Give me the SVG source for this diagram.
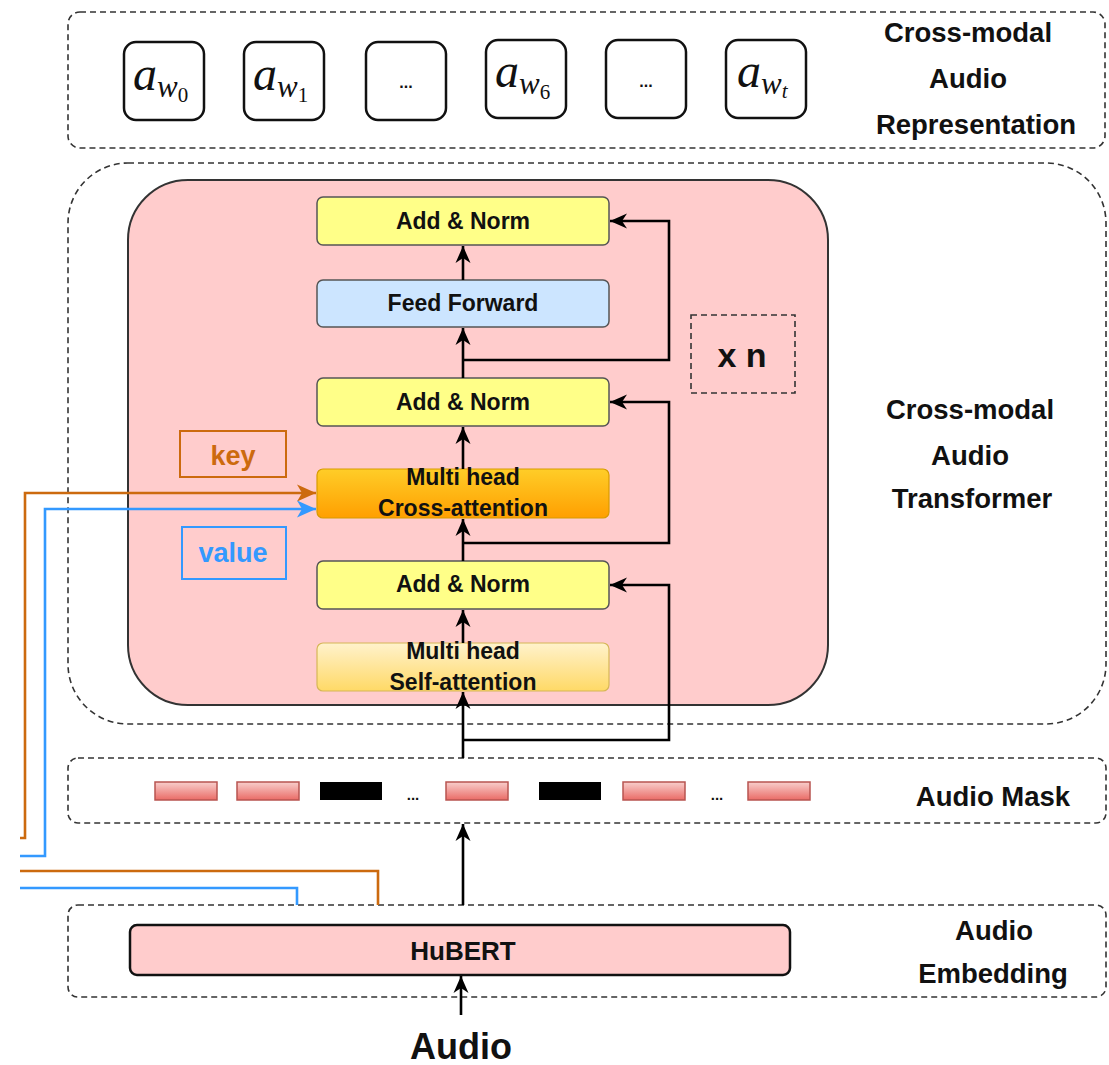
<svg xmlns="http://www.w3.org/2000/svg" width="1109" height="1065" viewBox="0 0 1109 1065">
  <style>
    .dash { fill: none; stroke: #333; stroke-width: 1.6; stroke-dasharray: 6 4; }
    .lbl { font-family: "Liberation Sans", Arial, sans-serif; font-weight: bold; fill: #111; text-anchor: middle; }
    .cap { font-family: "Liberation Sans", Arial, sans-serif; font-weight: bold; fill: #111; text-anchor: middle; font-size: 27.5px; }
    .blk { font-family: "Liberation Sans", Arial, sans-serif; font-weight: bold; fill: #111; text-anchor: middle; font-size: 23px; }
    .math { font-family: "Liberation Serif", "DejaVu Serif", serif; font-style: italic; fill: #111; }
    .tok { fill: #fff; stroke: #111; stroke-width: 2.5; }
    .an { fill: #ffff88; stroke: #555; stroke-width: 1.5; }
    .wire { fill: none; stroke: #000; stroke-width: 2.6; }
    .orange { fill: none; stroke: #cc6a0e; stroke-width: 2.6; }
    .blue { fill: none; stroke: #3399ff; stroke-width: 2.6; }
    .mask { fill: url(#gMask); stroke: #b85450; stroke-width: 1.5; }
    .hole { fill: #000; }
  </style>
  <defs>
    <linearGradient id="gCross" x1="0" y1="0" x2="0" y2="1">
      <stop offset="0" stop-color="#ffcd28"/>
      <stop offset="1" stop-color="#ff9f00"/>
    </linearGradient>
    <linearGradient id="gSelf" x1="0" y1="0" x2="0" y2="1">
      <stop offset="0" stop-color="#fff2cc"/>
      <stop offset="1" stop-color="#ffd966"/>
    </linearGradient>
    <linearGradient id="gMask" x1="0" y1="0" x2="0" y2="1">
      <stop offset="0" stop-color="#f8cecc"/>
      <stop offset="1" stop-color="#ea6b66"/>
    </linearGradient>
    <marker id="ah" markerUnits="userSpaceOnUse" markerWidth="18" markerHeight="18" viewBox="0 0 18 18" refX="17" refY="9" orient="auto">
      <path d="M0,1.5 L17,9 L0,16.5 L5,9 z" fill="#000"/>
    </marker>
    <marker id="ahO" markerUnits="userSpaceOnUse" markerWidth="20" markerHeight="20" viewBox="0 0 20 20" refX="19" refY="10" orient="auto">
      <path d="M0,1.5 L19,10 L0,18.5 L5,10 z" fill="#cc6a0e"/>
    </marker>
    <marker id="ahB" markerUnits="userSpaceOnUse" markerWidth="20" markerHeight="20" viewBox="0 0 20 20" refX="19" refY="10" orient="auto">
      <path d="M0,1.5 L19,10 L0,18.5 L5,10 z" fill="#3399ff"/>
    </marker>
  </defs>

  <!-- group frames -->
  <g id="frames">
    <rect class="dash" x="68" y="12" width="1037" height="136" rx="12"/>
    <rect class="dash" x="68" y="163" width="1038" height="561" rx="60"/>
    <rect class="dash" x="68" y="758" width="1038" height="65" rx="10"/>
    <rect class="dash" x="68" y="905" width="1038" height="92" rx="10"/>
  </g>

  <!-- output tokens -->
  <g id="tokens">
    <g id="tok-w0">
      <rect class="tok" x="124" y="42" width="80" height="78" rx="12"/>
      <text class="math" x="133" y="90" font-size="48">a<tspan font-size="31" dy="7">w</tspan><tspan font-size="21" font-style="normal" dy="5">0</tspan></text>
    </g>
    <g id="tok-w1">
      <rect class="tok" x="244" y="42" width="80" height="78" rx="12"/>
      <text class="math" x="253" y="90" font-size="48">a<tspan font-size="31" dy="7">w</tspan><tspan font-size="21" font-style="normal" dy="5">1</tspan></text>
    </g>
    <g id="tok-e1">
      <rect class="tok" x="366" y="42" width="80" height="78" rx="12"/>
      <text class="lbl" x="406" y="88" font-size="16" font-weight="normal">...</text>
    </g>
    <g id="tok-w6">
      <rect class="tok" x="486" y="40" width="80" height="78" rx="12"/>
      <text class="math" x="495" y="87" font-size="48">a<tspan font-size="31" dy="7">w</tspan><tspan font-size="21" font-style="normal" dy="5">6</tspan></text>
    </g>
    <g id="tok-e2">
      <rect class="tok" x="606" y="40" width="80" height="78" rx="12"/>
      <text class="lbl" x="646" y="87" font-size="16" font-weight="normal">...</text>
    </g>
    <g id="tok-wt">
      <rect class="tok" x="726" y="40" width="80" height="78" rx="12"/>
      <text class="math" x="737" y="87" font-size="48">a<tspan font-size="31" dy="7">w</tspan><tspan font-size="21" dy="4">t</tspan></text>
    </g>
  </g>

  <!-- side captions -->
  <g id="captions">
    <text class="cap" x="968" y="42">Cross-modal</text>
    <text class="cap" x="968" y="88">Audio</text>
    <text class="cap" x="976" y="134">Representation</text>
    <text class="cap" x="970" y="419">Cross-modal</text>
    <text class="cap" x="970" y="465">Audio</text>
    <text class="cap" x="972" y="508">Transformer</text>
    <text class="cap" x="993" y="806">Audio Mask</text>
    <text class="cap" x="994" y="940">Audio</text>
    <text class="cap" x="993" y="983">Embedding</text>
  </g>

  <!-- transformer block -->
  <g id="transformer">
    <rect x="128" y="180" width="700" height="525" rx="60" fill="#ffcccc" stroke="#333" stroke-width="2"/>
  </g>

  <g id="xn">
    <rect class="dash" x="691" y="315" width="104" height="78" stroke="#111" stroke-width="2.2"/>
    <text class="lbl" x="742" y="367" font-size="34">x n</text>
  </g>

  <g id="key">
    <rect x="180" y="431" width="106" height="46" fill="none" stroke="#cc6a0e" stroke-width="2"/>
    <text class="lbl" x="233" y="465" font-size="27" style="fill:#cc6a0e">key</text>
  </g>
  <g id="value">
    <rect x="182" y="527" width="104" height="52" fill="none" stroke="#3399ff" stroke-width="2"/>
    <text class="lbl" x="233" y="562" font-size="27" style="fill:#3399ff">value</text>
  </g>

  <g id="addnorm-1">
    <rect class="an" x="317" y="197" width="292" height="48" rx="6"/>
    <text class="blk" x="463" y="229">Add &amp; Norm</text>
  </g>
  <g id="feed-forward">
    <rect x="317" y="280" width="292" height="47" rx="6" fill="#cce5ff" stroke="#555" stroke-width="1.5"/>
    <text class="blk" x="463" y="311">Feed Forward</text>
  </g>
  <g id="addnorm-2">
    <rect class="an" x="317" y="378" width="292" height="48" rx="6"/>
    <text class="blk" x="463" y="410">Add &amp; Norm</text>
  </g>
  <g id="cross-attention">
    <rect x="317" y="469" width="292" height="49" rx="6" fill="url(#gCross)" stroke="#d79b00" stroke-width="1.2"/>
    <text class="blk" x="463" y="485">Multi head</text>
    <text class="blk" x="463" y="516">Cross-attention</text>
  </g>
  <g id="addnorm-3">
    <rect class="an" x="317" y="561" width="292" height="48" rx="6"/>
    <text class="blk" x="463" y="592">Add &amp; Norm</text>
  </g>
  <g id="self-attention">
    <rect x="317" y="643" width="292" height="48" rx="6" fill="url(#gSelf)" stroke="#d6b656" stroke-width="1.2"/>
    <text class="blk" x="463" y="659">Multi head</text>
    <text class="blk" x="463" y="690">Self-attention</text>
  </g>

  <!-- masked token row -->
  <g id="audio-mask">
    <rect class="mask" x="155" y="782" width="62" height="18"/>
    <rect class="mask" x="237" y="782" width="62" height="18"/>
    <rect class="hole" x="320" y="782" width="62" height="18"/>
    <text class="lbl" x="413" y="800" font-size="15" font-weight="normal">...</text>
    <rect class="mask" x="446" y="782" width="62" height="18"/>
    <rect class="hole" x="539" y="782" width="62" height="18"/>
    <rect class="mask" x="623" y="782" width="62" height="18"/>
    <text class="lbl" x="717" y="800" font-size="15" font-weight="normal">...</text>
    <rect class="mask" x="748" y="782" width="62" height="18"/>
  </g>

  <g id="hubert">
    <rect x="130" y="925" width="660" height="50" rx="7" fill="#ffcccc" stroke="#111" stroke-width="2.5"/>
    <text class="lbl" x="463" y="960" font-size="26">HuBERT</text>
  </g>

  <g id="audio-input">
    <text class="lbl" x="461" y="1059" font-size="36">Audio</text>
  </g>

  <!-- connectors -->
  <g id="connectors">
    <path class="wire" d="M463,280 L463,246" marker-end="url(#ah)"/>
    <path class="wire" d="M463,378 L463,328" marker-end="url(#ah)"/>
    <path class="wire" d="M463,360 L669,360 L669,221 L610,221" marker-end="url(#ah)"/>
    <path class="wire" d="M463,469 L463,427" marker-end="url(#ah)"/>
    <path class="wire" d="M463,561 L463,519" marker-end="url(#ah)"/>
    <path class="wire" d="M463,543 L669,543 L669,402 L610,402" marker-end="url(#ah)"/>
    <path class="wire" d="M463,643 L463,610" marker-end="url(#ah)"/>
    <path class="wire" d="M463,758 L463,692" marker-end="url(#ah)"/>
    <path class="wire" d="M463,740 L669,740 L669,585 L610,585" marker-end="url(#ah)"/>
    <path class="wire" d="M463,905 L463,824" marker-end="url(#ah)"/>
    <path class="wire" d="M461,1015 L461,976" marker-end="url(#ah)"/>

    <path class="orange" d="M20,838 L25,838 L25,493 L316,493" marker-end="url(#ahO)"/>
    <path class="blue" d="M20,856 L45,856 L45,509 L316,509" marker-end="url(#ahB)"/>
    <path class="orange" d="M20,871 L378,871 L378,905"/>
    <path class="blue" d="M20,888 L297,888 L297,905"/>
  </g>
</svg>
